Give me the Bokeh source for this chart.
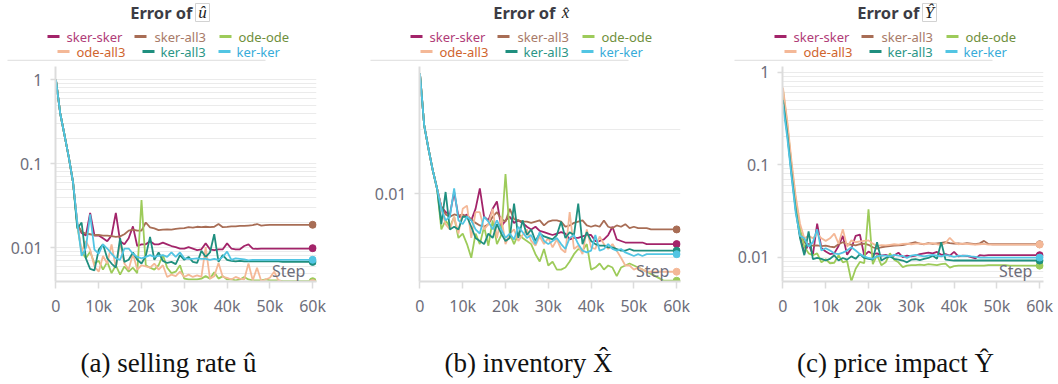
from bokeh.plotting import figure
from bokeh.layouts import column, row
from bokeh.models import Range1d, FixedTicker, CustomJSTickFormatter, Label, ColumnDataSource
from bokeh.core.properties import value
from bokeh.embed import file_html
from bokeh.resources import INLINE

# ---------------- data ----------------
steps = [0, 1000, 2000, 3000, 4000, 5000, 6000, 7000, 8000, 9000,
         10000, 11000, 12000, 13000, 14000, 15000, 16000, 17000, 18000, 19000,
         20000, 21000, 22000, 23000, 24000, 25000, 26000, 27000, 28000, 29000,
         30000, 31000, 32000, 33000, 34000, 35000, 36000, 37000, 38000, 39000,
         40000, 41000, 42000, 43000, 44000, 45000, 46000, 47000, 48000, 49000,
         50000, 51000, 52000, 53000, 54000, 55000, 56000, 57000, 58000, 59000,
         60000]

series_names = ["sker-sker", "sker-all3", "ode-ode", "ode-all3", "ker-all3", "ker-ker"]

x_ticks = [0, 10000, 20000, 30000, 40000, 50000, 60000]
x_tick_labels = ["0", "10k", "20k", "30k", "40k", "50k", "60k"]

# Error of u-hat
u_sker_sker = [1.0, 0.4, 0.22, 0.12, 0.06,
               0.019, 0.015, 0.014, 0.026, 0.014,
               0.014, 0.013, 0.012, 0.014, 0.026,
               0.012, 0.011, 0.013, 0.018, 0.0105,
               0.011, 0.011, 0.012, 0.011, 0.011,
               0.0115, 0.011, 0.0105, 0.0102, 0.0098,
               0.0098, 0.0102, 0.0098, 0.0094, 0.0096,
               0.0113, 0.0096, 0.0094, 0.0096, 0.0096,
               0.0113, 0.0098, 0.0096, 0.0096, 0.0105,
               0.0110, 0.0098, 0.0097, 0.0098, 0.0098,
               0.0098, 0.0098, 0.0098, 0.0098, 0.0098,
               0.0098, 0.0098, 0.0098, 0.0098, 0.0098,
               0.0099]
u_sker_all3 = [1.0, 0.4, 0.22, 0.12, 0.06,
               0.019, 0.0155, 0.0148, 0.0145, 0.0142,
               0.0142, 0.014, 0.014, 0.0138, 0.0135,
               0.0137, 0.0145, 0.016, 0.0165, 0.016,
               0.016, 0.020, 0.0175, 0.017, 0.0162,
               0.0165, 0.0166, 0.0165, 0.0168, 0.017,
               0.0172, 0.0176, 0.0174, 0.0178, 0.0176,
               0.0178, 0.0176, 0.0178, 0.0192, 0.0176,
               0.0177, 0.018, 0.018, 0.0182, 0.0182,
               0.0184, 0.0186, 0.0192, 0.0184, 0.0186,
               0.0187, 0.0187, 0.0187, 0.0188, 0.0188,
               0.0188, 0.0188, 0.0188, 0.0188, 0.0188,
               0.0188]
u_ode_ode = [1.0, 0.4, 0.22, 0.12, 0.06,
             0.018, 0.009, 0.0075, 0.009, 0.0065,
             0.007, 0.0055, 0.0068, 0.005, 0.0062,
             0.0048, 0.006, 0.0052, 0.0058, 0.005,
             0.037, 0.0062, 0.0058, 0.0055, 0.0062,
             0.0082, 0.0058, 0.005, 0.0052, 0.0062,
             0.0043, 0.0042, 0.0042, 0.0042, 0.0043,
             0.0046, 0.0043, 0.0051, 0.0043, 0.0046,
             0.0042, 0.0042, 0.0041, 0.0042, 0.0045,
             0.0042, 0.0041, 0.0041, 0.0041, 0.0042,
             0.0041, 0.0041, 0.0041, 0.0040, 0.0040,
             0.0040, 0.0040, 0.0040, 0.0040, 0.0040,
             0.0040]
u_ode_all3 = [1.0, 0.4, 0.22, 0.12, 0.06,
              0.02, 0.009, 0.012, 0.0095, 0.006,
              0.0052, 0.008, 0.0065, 0.011, 0.0058,
              0.0115, 0.0065, 0.0055, 0.0085, 0.0055,
              0.0062, 0.006, 0.0058, 0.0065, 0.0055,
              0.0062, 0.0045, 0.0048, 0.0046, 0.0052,
              0.0045, 0.0048, 0.0045, 0.0047, 0.0045,
              0.0102, 0.0043, 0.0046, 0.0066, 0.0045,
              0.0044, 0.0042, 0.0045, 0.0043, 0.0042,
              0.0065, 0.0041, 0.0058, 0.0040, 0.0042,
              0.0044, 0.0052, 0.0041, 0.0039, 0.0038,
              0.0038, 0.0038, 0.0038, 0.0038, 0.0038,
              0.0038]
u_ker_all3 = [1.0, 0.4, 0.22, 0.12, 0.06,
              0.017, 0.02, 0.0075, 0.0056, 0.0054,
              0.0095, 0.011, 0.0075, 0.0065, 0.0058,
              0.013, 0.0068, 0.0072, 0.0088, 0.0072,
              0.0065, 0.008, 0.0135, 0.0072, 0.0088,
              0.007, 0.0066, 0.0068, 0.0064, 0.0082,
              0.0072, 0.0078, 0.0068, 0.0066, 0.0092,
              0.0078, 0.0088, 0.0145, 0.0068, 0.0082,
              0.0072, 0.007, 0.0069, 0.007, 0.0069,
              0.0069, 0.0069, 0.0069, 0.0069, 0.0069,
              0.0069, 0.0069, 0.0069, 0.0068, 0.0068,
              0.0068, 0.0068, 0.0068, 0.0068, 0.0068,
              0.0068]
u_ker_ker = [1.0, 0.4, 0.22, 0.12, 0.06,
             0.02, 0.008, 0.01, 0.025, 0.0095,
             0.0085, 0.011, 0.0098, 0.0085, 0.0075,
             0.0072, 0.0098, 0.0098, 0.0085, 0.0078,
             0.0075, 0.0078, 0.0082, 0.0078, 0.0080,
             0.0082, 0.0078, 0.0088, 0.0078, 0.0088,
             0.0075, 0.0074, 0.0074, 0.0075, 0.0074,
             0.0074, 0.0072, 0.0074, 0.0072, 0.0078,
             0.0090, 0.0072, 0.0075, 0.0074, 0.0073,
             0.0071, 0.0072, 0.0072, 0.0072, 0.0072,
             0.0072, 0.0072, 0.0072, 0.0072, 0.0072,
             0.0072, 0.0072, 0.0072, 0.0072, 0.0072,
             0.0072]

# Error of x-hat (inventory)
x_sker_sker = [0.0368, 0.021, 0.0163, 0.0129, 0.0106,
               0.0087, 0.0082, 0.0080, 0.0102, 0.0078,
               0.0078, 0.0080, 0.0075, 0.0085, 0.0106,
               0.0078, 0.0075, 0.0085, 0.0092, 0.0070,
               0.0075, 0.0078, 0.0073, 0.0075, 0.0073,
               0.0070, 0.0068, 0.0070, 0.0067, 0.0066,
               0.0065, 0.0064, 0.0065, 0.0066, 0.0065,
               0.0061, 0.0062, 0.0062, 0.0063, 0.0064,
               0.0064, 0.0060, 0.0060, 0.0061, 0.0064,
               0.0070, 0.0061, 0.0060, 0.0059, 0.0059,
               0.0059, 0.0059, 0.0059, 0.0058, 0.0058,
               0.0058, 0.0058, 0.0058, 0.0058, 0.0058,
               0.0058]
x_sker_all3 = [0.0368, 0.021, 0.0163, 0.0129, 0.0106,
               0.0087, 0.0080, 0.0078, 0.0080, 0.0079,
               0.0080, 0.0078, 0.0076, 0.0073, 0.0071,
               0.0070, 0.0072, 0.0078, 0.0082, 0.0076,
               0.0074, 0.0085, 0.0076, 0.0075, 0.0074,
               0.0074, 0.0073, 0.0074, 0.0075, 0.0071,
               0.0074, 0.0075, 0.0075, 0.0074, 0.0070,
               0.0071, 0.0073, 0.0074, 0.0075, 0.0071,
               0.0070, 0.0071, 0.0070, 0.0075, 0.0070,
               0.0069, 0.0071, 0.0070, 0.0072, 0.0069,
               0.0070, 0.0069, 0.0069, 0.0069, 0.0068,
               0.0068, 0.0068, 0.0068, 0.0068, 0.0068,
               0.0068]
x_ode_ode = [0.0368, 0.021, 0.0163, 0.0129, 0.0106,
             0.0068, 0.0075, 0.0070, 0.0078, 0.0062,
             0.0065, 0.0058, 0.0050, 0.0065, 0.0058,
             0.0070, 0.0057, 0.0075, 0.0058, 0.0064,
             0.0124, 0.0065, 0.0058, 0.0065, 0.0062,
             0.0060, 0.0058, 0.0052, 0.0048, 0.0055,
             0.0046, 0.0048, 0.0044, 0.0044, 0.0045,
             0.0048, 0.0052, 0.0055, 0.0054, 0.0058,
             0.0044, 0.0045, 0.0047, 0.0044, 0.0046,
             0.0045, 0.0041, 0.0045, 0.0046, 0.0047,
             0.0046, 0.0045, 0.0044, 0.0043, 0.0042,
             0.0041, 0.0040, 0.0039, 0.0039, 0.0039,
             0.0039]
x_ode_all3 = [0.0368, 0.021, 0.0163, 0.0129, 0.0106,
              0.0085, 0.0072, 0.0068, 0.0078, 0.0065,
              0.0085, 0.0088, 0.0062, 0.0082, 0.0082,
              0.0068, 0.0072, 0.0085, 0.0062, 0.0078,
              0.0058, 0.0065, 0.0068, 0.0060, 0.0064,
              0.0068, 0.0060, 0.0057, 0.0063, 0.0058,
              0.0062, 0.0056, 0.0061, 0.0055, 0.0053,
              0.0082, 0.0055, 0.0057, 0.0052, 0.0068,
              0.0056, 0.0055, 0.0063, 0.0058, 0.0055,
              0.0058, 0.0054, 0.0050, 0.0046, 0.0046,
              0.0044, 0.0045, 0.0044, 0.0043, 0.0043,
              0.0043, 0.0043, 0.0043, 0.0043, 0.0043,
              0.0043]
x_ker_all3 = [0.0368, 0.021, 0.0163, 0.0129, 0.0106,
              0.0072, 0.0102, 0.0068, 0.0070, 0.0068,
              0.0078, 0.0078, 0.0070, 0.0062, 0.0060,
              0.0058, 0.0065, 0.0062, 0.0072, 0.0065,
              0.0060, 0.0062, 0.0090, 0.0062, 0.0075,
              0.0064, 0.0068, 0.0060, 0.0065, 0.0063,
              0.0062, 0.0061, 0.0064, 0.0074, 0.0062,
              0.0066, 0.0064, 0.0090, 0.0058, 0.0066,
              0.0060, 0.0058, 0.0057, 0.0057, 0.0056,
              0.0056, 0.0055, 0.0054, 0.0054, 0.0055,
              0.0054, 0.0054, 0.0054, 0.0054, 0.0054,
              0.0054, 0.0054, 0.0054, 0.0054, 0.0054,
              0.0054]
x_ker_ker = [0.0368, 0.021, 0.0163, 0.0129, 0.0106,
             0.0085, 0.0075, 0.0078, 0.0106, 0.0075,
             0.0072, 0.0078, 0.0075, 0.0068, 0.0065,
             0.0078, 0.0074, 0.0068, 0.0075, 0.0068,
             0.0062, 0.0065, 0.0061, 0.0070, 0.0066,
             0.0062, 0.0064, 0.0058, 0.0066, 0.0060,
             0.0058, 0.0060, 0.0062, 0.0058, 0.0055,
             0.0062, 0.0064, 0.0058, 0.0054, 0.0053,
             0.0054, 0.0064, 0.0054, 0.0055, 0.0058,
             0.0055, 0.0054, 0.0055, 0.0053, 0.0052,
             0.0051, 0.0052, 0.0051, 0.0052, 0.0052,
             0.0052, 0.0052, 0.0052, 0.0052, 0.0052,
             0.0052]

# Error of Y-hat (price impact)
y_sker_sker = [0.5, 0.23, 0.085, 0.034, 0.017,
               0.011, 0.014, 0.0105, 0.023, 0.0125,
               0.0115, 0.0108, 0.0110, 0.0132, 0.017,
               0.0106, 0.0125, 0.017, 0.0175, 0.0104,
               0.0115, 0.0108, 0.0110, 0.0104, 0.0106,
               0.0102, 0.0104, 0.0112, 0.0100, 0.0104,
               0.0102, 0.0104, 0.0108, 0.0110, 0.0112,
               0.0110, 0.0114, 0.0106, 0.0108, 0.0104,
               0.0114, 0.0102, 0.0104, 0.0103, 0.0100,
               0.0097, 0.0105, 0.0104, 0.0105, 0.0105,
               0.0105, 0.0105, 0.0105, 0.0105, 0.0105,
               0.0105, 0.0105, 0.0105, 0.0105, 0.0105,
               0.0105]
y_sker_all3 = [0.55, 0.25, 0.09, 0.036, 0.019,
               0.0145, 0.0135, 0.0133, 0.0134, 0.0132,
               0.0133, 0.013, 0.0128, 0.0138, 0.0145,
               0.0138, 0.0137, 0.0134, 0.0138, 0.014,
               0.0136, 0.0128, 0.0124, 0.0128, 0.013,
               0.0132, 0.0133, 0.0134, 0.0135, 0.0138,
               0.0142, 0.0145, 0.014, 0.0138, 0.0142,
               0.0139, 0.0141, 0.0143, 0.0145, 0.0142,
               0.014, 0.0141, 0.0139, 0.0142, 0.014,
               0.0138, 0.0141, 0.015, 0.0139, 0.0138,
               0.0138, 0.0138, 0.0138, 0.0138, 0.0138,
               0.0138, 0.0138, 0.0138, 0.0138, 0.0138,
               0.0138]
y_ode_ode = [0.65, 0.28, 0.1, 0.042, 0.02,
             0.013, 0.011, 0.0105, 0.011, 0.0088,
             0.0095, 0.0086, 0.0087, 0.0105, 0.0088,
             0.0091, 0.0055, 0.0075, 0.0089, 0.0086,
             0.033, 0.0084, 0.0105, 0.0082, 0.0088,
             0.011, 0.0094, 0.0088, 0.0078, 0.0081,
             0.0082, 0.0082, 0.0083, 0.0082, 0.0084,
             0.0083, 0.0082, 0.0084, 0.0085, 0.0077,
             0.0080, 0.0081, 0.0081, 0.0081, 0.0081,
             0.0081, 0.0081, 0.0081, 0.0082, 0.0082,
             0.0082, 0.0082, 0.0082, 0.0081, 0.0081,
             0.0081, 0.0081, 0.0081, 0.0081, 0.0081,
             0.0081]
y_ode_all3 = [0.68, 0.3, 0.11, 0.045, 0.023,
              0.016, 0.017, 0.016, 0.018, 0.016,
              0.015, 0.016, 0.018, 0.014, 0.020,
              0.013, 0.0152, 0.0145, 0.0148, 0.015,
              0.0152, 0.014, 0.0132, 0.0135, 0.0134,
              0.0136, 0.0138, 0.0137, 0.0139, 0.014,
              0.0138, 0.014, 0.0141, 0.0138, 0.014,
              0.0142, 0.0138, 0.0136, 0.0142, 0.0162,
              0.0145, 0.0138, 0.014, 0.0139, 0.0138,
              0.0137, 0.0138, 0.0139, 0.0137, 0.0137,
              0.0137, 0.0137, 0.0137, 0.0137, 0.0137,
              0.0137, 0.0137, 0.0137, 0.0137, 0.0137,
              0.0137]
y_ker_all3 = [0.5, 0.22, 0.08, 0.032, 0.016,
              0.0105, 0.019, 0.0095, 0.0098, 0.0096,
              0.0092, 0.0096, 0.0105, 0.0092, 0.0098,
              0.0094, 0.0102, 0.0096, 0.0108, 0.0098,
              0.0096, 0.0094, 0.0145, 0.0092, 0.0098,
              0.0102, 0.0096, 0.0094, 0.0092, 0.0088,
              0.0094, 0.0095, 0.0093, 0.0096, 0.0098,
              0.0104, 0.0096, 0.0145, 0.0094, 0.0093,
              0.0092, 0.0092, 0.0092, 0.0092, 0.0092,
              0.0092, 0.0092, 0.0092, 0.0092, 0.0092,
              0.0092, 0.0092, 0.0092, 0.0092, 0.0092,
              0.0092, 0.0092, 0.0092, 0.0092, 0.0092,
              0.0092]
y_ker_ker = [0.45, 0.2, 0.075, 0.03, 0.017,
             0.016, 0.013, 0.0145, 0.02, 0.0118,
             0.0125, 0.0118, 0.011, 0.0108, 0.0112,
             0.0118, 0.0128, 0.0118, 0.0108, 0.0102,
             0.0098, 0.0096, 0.0102, 0.0104, 0.0104,
             0.0102, 0.0106, 0.0104, 0.0103, 0.0098,
             0.0104, 0.0106, 0.0104, 0.0102, 0.0104,
             0.0106, 0.0104, 0.0102, 0.0105, 0.0104,
             0.0101, 0.0104, 0.0103, 0.0104, 0.0102,
             0.0101, 0.0099, 0.0099, 0.0099, 0.0099,
             0.0099, 0.0099, 0.0099, 0.0099, 0.0099,
             0.0099, 0.0099, 0.0099, 0.0099, 0.0099,
             0.0099]

panel_titles = ["Error of", "Error of", "Error of"]
panel_symbols = ["\u00fb", "x\u0302", "\u0176"]
panel_captions = ["(a) selling rate \u00fb", "(b) inventory X\u0302", "(c) price impact \u0176"]

# ---------------- style ----------------
line_colors = ["#a3246a", "#a86d55", "#9dcb5a", "#f4b897", "#1f8f7f", "#52c5e3"]
text_colors = ["#b03c78", "#a87a68", "#6f8f3c", "#d0652e", "#2b9686", "#38acd9"]
GRID = "#ebebeb"
AXIS = "#dcdcdc"
LABEL = "#6e6e7a"

HDR_H = 61
panel_widths = [363, 364, 331]
panel_offsets = [0, 363, 727]
border_left = [55, 56, 55]
# log10 of y-range bottom / top for each panel
y_log_ranges = [(-2.401, 0.158), (-2.4125, -1.401), (-2.263, 0.0616)]
FRAME_H = 215
PLOT_TOP = 66 - HDR_H

panels = [
    [u_sker_sker, u_sker_all3, u_ode_ode, u_ode_all3, u_ker_all3, u_ker_ker],
    [x_sker_sker, x_sker_all3, x_ode_ode, x_ode_all3, x_ker_all3, x_ker_ker],
    [y_sker_sker, y_sker_all3, y_ode_ode, y_ode_all3, y_ker_all3, y_ker_ker],
]

# ---------------- header (titles + legends) ----------------
hdr = figure(width=1058, height=HDR_H, x_range=Range1d(0, 1058), y_range=Range1d(HDR_H, 0),
             toolbar_location=None, output_backend="svg", min_border=0,
             x_axis_location=None, y_axis_location=None, outline_line_color=None)
hdr.xgrid.visible = False
hdr.ygrid.visible = False

row1_dash = [47, 134, 219]
row1_text = [66, 154, 238]
row2_dash = [57, 142, 218]
row2_text = [76, 160, 236]

for pi, off in enumerate(panel_offsets):
    hdr.text(x=[off + 192], y=[12], text=[panel_titles[pi]], text_font=value("Noto Sans"),
             text_font_style="bold", text_font_size="16.5px", text_color="#3c3c44",
             text_align="right", text_baseline="middle")
    if pi != 1:
        hdr.quad(left=[off + 195], right=[off + 209], top=[3], bottom=[21],
                 fill_color=None, line_color="#d2d2d2", line_width=1)
    hdr.text(x=[off + 202], y=[12], text=[panel_symbols[pi]], text_font=value("Liberation Serif"),
             text_font_style="italic", text_font_size="17px", text_color="#222222",
             text_align="center", text_baseline="middle")
    for si, name in enumerate(series_names):
        if si < 3:
            dx, tx, yy = row1_dash[si], row1_text[si], 36
        else:
            dx, tx, yy = row2_dash[si - 3], row2_text[si - 3], 51
        hdr.segment(x0=[off + dx], y0=[yy], x1=[off + dx + 12], y1=[yy],
                    line_color=line_colors[si], line_width=3)
        hdr.text(x=[off + tx], y=[yy], text=[name], text_font=value("Noto Sans"),
                 text_font_size="13px", text_color=text_colors[si],
                 text_align="left", text_baseline="middle")
    hdr.segment(x0=[off + 7], y0=[HDR_H - 1], x1=[off + 265], y1=[HDR_H - 1],
                line_color="#e4e4e4", line_width=1.5)

# ---------------- plots ----------------
plots = []
for pi in range(3):
    lo, hi = y_log_ranges[pi]
    w = panel_widths[pi]
    bl = border_left[pi]
    br = w - bl - 261
    p = figure(width=w, height=PLOT_TOP + FRAME_H + 41, x_range=Range1d(-100, 60900),
               y_range=Range1d(10 ** lo, 10 ** hi), y_axis_type="log",
               toolbar_location=None, output_backend="svg",
               min_border_left=bl, min_border_right=br, min_border_top=PLOT_TOP,
               min_border_bottom=41, outline_line_color=None)
    if pi == 1:
        yt = FixedTicker(ticks=[0.01], minor_ticks=[0.005, 0.02])
    else:
        minors = [k * 10.0 ** e for e in (-3, -2, -1, 0) for k in range(2, 10)]
        yt = FixedTicker(ticks=[0.01, 0.1, 1], minor_ticks=minors)
    p.yaxis.ticker = yt
    p.ygrid.ticker = yt
    p.yaxis.formatter = CustomJSTickFormatter(code="return tick >= 1 ? tick.toFixed(0) : String(tick);")
    xt = FixedTicker(ticks=x_ticks)
    p.xaxis.ticker = xt
    p.xaxis.major_label_overrides = dict(zip(x_ticks, x_tick_labels))
    p.xgrid.grid_line_color = None
    p.ygrid.grid_line_color = GRID
    p.ygrid.minor_grid_line_color = GRID
    for ax in (p.xaxis[0], p.yaxis[0]):
        ax.axis_line_color = AXIS
        ax.axis_line_width = 2
        ax.major_tick_line_color = AXIS
        ax.major_tick_line_width = 1.5
        ax.major_tick_in = 0
        ax.minor_tick_line_color = None
        ax.major_label_text_font = "Noto Sans"
        ax.major_label_text_font_size = "16px"
        ax.major_label_text_color = LABEL
    p.xaxis.major_tick_out = 7
    p.xaxis.major_label_standoff = 6
    p.yaxis.major_tick_out = 5
    p.yaxis.major_label_standoff = 8

    for si, vals in enumerate(panels[pi]):
        src = ColumnDataSource(dict(x=steps, y=vals))
        p.line("x", "y", source=src, line_color=line_colors[si], line_width=1.8)
        p.scatter(x=[steps[-1]], y=[vals[-1]], size=7, color=line_colors[si])

    step_y = 10 ** (lo + 11.0 / FRAME_H * (hi - lo))
    p.add_layout(Label(x=58300, y=step_y, text="Step", text_align="right",
                       text_baseline="middle", text_font="Noto Sans",
                       text_font_size="16px", text_color=LABEL))
    plots.append(p)

# ---------------- captions ----------------
cap = figure(width=1058, height=62, x_range=Range1d(0, 1058), y_range=Range1d(62, 0),
             toolbar_location=None, output_backend="svg", min_border=0,
             x_axis_location=None, y_axis_location=None, outline_line_color=None)
cap.xgrid.visible = False
cap.ygrid.visible = False
cap_centers = [168, 528, 895]
cap.text(x=cap_centers, y=[40, 40, 40], text=panel_captions,
         text_font=value("Liberation Serif"), text_font_size="27px",
         text_color="#111111", text_align="center", text_baseline="middle")

layout = column(hdr, row(*plots), cap)
open("out.html", "w").write(file_html(layout, INLINE))
